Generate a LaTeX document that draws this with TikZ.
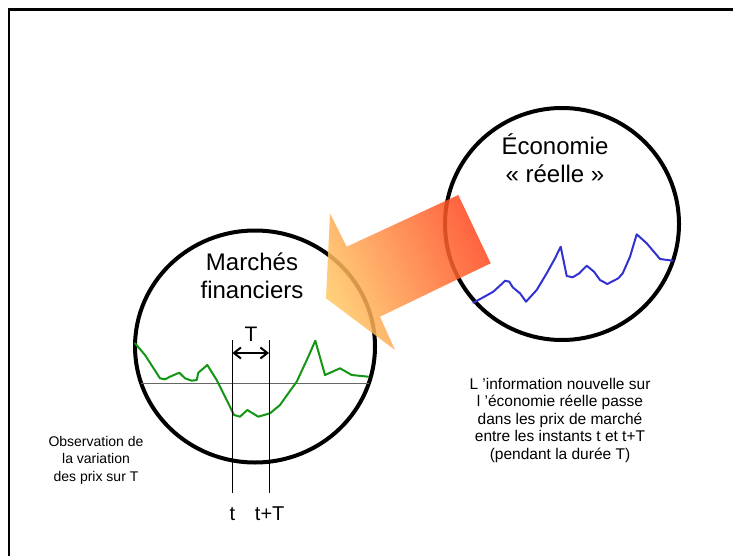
\documentclass[tikz,border=0pt]{standalone}
\usepackage{fontspec}
\setmainfont{Liberation Sans}
\usepackage{tikz}
\usetikzlibrary{shapes.geometric, arrows.meta, positioning}

\definecolor{pricegreen}{RGB}{20,150,20}
\definecolor{priceblue}{RGB}{50,50,210}
\definecolor{arrowred}{RGB}{255,70,30}
\definecolor{arrowlight}{RGB}{255,200,100}

\begin{document}
\begin{tikzpicture}[
    x=1pt, y=-1pt,
    bubble/.style={ellipse, draw=black, line width=4pt, inner sep=0pt},
    bigtxt/.style={inner sep=0pt, align=center, font=\fontsize{24}{28}\selectfont},
    smalltxt/.style={inner sep=0pt, align=center, font=\fontsize{15.5}{17.5}\selectfont},
    timetxt/.style={inner sep=0pt, anchor=base, font=\fontsize{20}{24}\selectfont},
    tick/.style={draw=black, line width=1pt},
    pricecurve/.style={line width=2pt, line join=round, line cap=round}
]
\useasboundingbox (0,0) rectangle (733,556);

% frame
\draw[line width=2.7pt] (9,556) |- (733,9.5);

% the two worlds
\node[bubble, minimum width=240pt, minimum height=232pt] (marches) at (255,346.5) {};
\node[bubble, minimum width=234pt, minimum height=232pt] (economie) at (562,224) {};
\node[bigtxt] (marchestxt) at (252,275.4) {Marchés\\financiers};
\node[bigtxt] (ecotxt) at (555,158.7) {Économie\\« réelle »};

% price paths
\draw[line width=1.5pt, black!60] (141,383.3) -- (369,383.3);
\draw[pricecurve, pricegreen] (135,343.3) -- (145,355) -- (160,378.3) -- (165,379.3) -- (170,376.7) -- (179.3,372.7) -- (185,378.3) -- (191.7,380.7) -- (196.7,380) -- (198.3,372.7) -- (207.3,365) -- (216.7,380) -- (226.7,400) -- (234,415) -- (240,416.7) -- (247.3,410) -- (251.7,412.7) -- (258.3,416.7) -- (270,413.3) -- (280,405) -- (288.3,393.3) -- (296.7,381.7) -- (308.3,356.7) -- (315.3,340.7) -- (325,375) -- (340,368.3) -- (351.7,375) -- (368.3,376.7);
\draw[pricecurve, priceblue] (473.3,302.7) -- (483.3,297.3) -- (493.3,291.7) -- (501.7,284) -- (505,280.7) -- (509.3,281.7) -- (512.7,287.3) -- (520,293.3) -- (526,301.7) -- (536.7,290) -- (546.7,273.3) -- (555,258.3) -- (560.7,246.7) -- (566.7,276) -- (572.7,277.3) -- (579.3,273.3) -- (586.7,265.7) -- (594,271.7) -- (600,280) -- (607.3,284) -- (618.3,278.3) -- (622.7,273.3) -- (630,256.7) -- (636.7,234.3) -- (646.7,243.3) -- (660,259) -- (672.7,260.7);

% instants t and t+T
\coordinate (ttop) at (232.3,340);
\coordinate (tbot) at (232.3,493.3);
\coordinate (tTtop) at (269,340);
\coordinate (tTbot) at (269,493.3);
\coordinate (Tleft) at (232.3,353);
\coordinate (Tright) at (269,353);
\draw[tick] (ttop) -- (tbot);
\draw[tick] (tTtop) -- (tTbot);
\draw[{Straight Barb[length=7pt,width=11pt]}-{Straight Barb[length=7pt,width=11pt]}, line width=2pt] (Tleft) -- (Tright);
\node[timetxt, font=\fontsize{21}{25}\selectfont] (Tlabel) at (251,341.7) {T};
\node[timetxt] (tlabel) at (232.3,520) {t};
\node[timetxt] (tTlabel) at (269.7,520) {t+T};

% big arrow
\shade[top color=arrowred, bottom color=arrowlight, shading angle=-65, fill opacity=0.85]
  (458.3,195) -- (346.7,246.7) -- (330,213.3) -- (326,298.3) -- (395,350) -- (380,316.7) -- (490.7,263.3) -- cycle;

% comments
\node[smalltxt, font=\fontsize{14}{17.3}\selectfont] (obs) at (96,460.3) {Observation de\\la variation\\des prix sur T};
\node[smalltxt] (info) at (560,420.3) {L ’information nouvelle sur\\l ’économie réelle passe\\dans les prix de marché\\entre les instants t et t+T\\(pendant la durée T)};

\end{tikzpicture}
\end{document}
